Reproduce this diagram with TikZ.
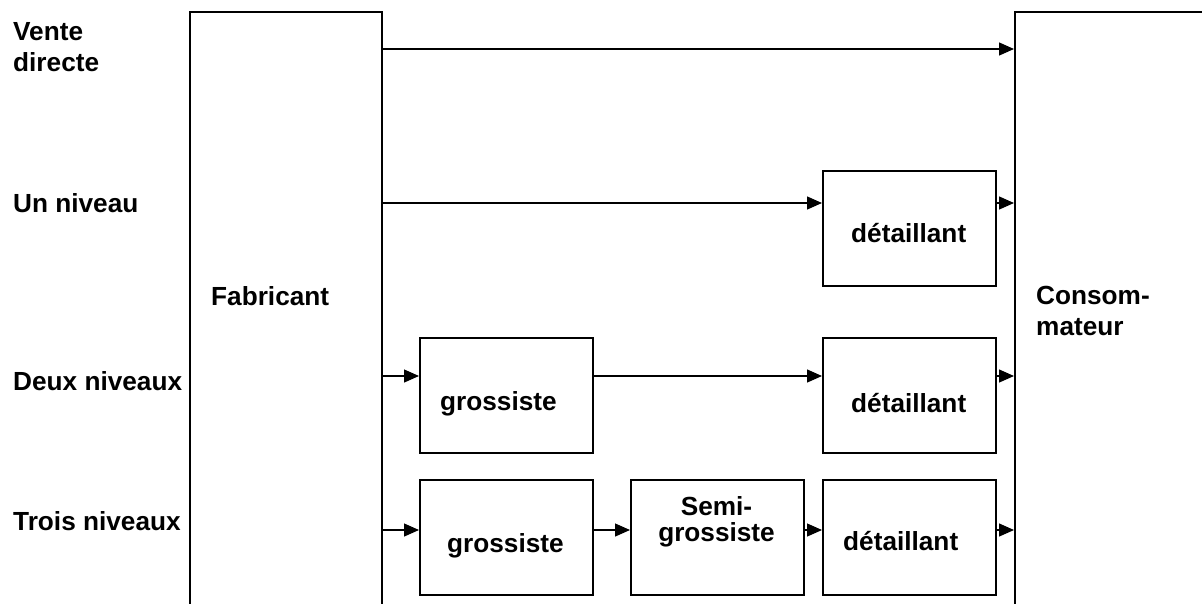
\documentclass[tikz,border=0pt]{standalone}
\usepackage{fontspec}
\setmainfont{Liberation Sans}
\usetikzlibrary{arrows.meta}
\tikzset{
  box/.style={draw=black, line width=1.6pt, rectangle, inner sep=0pt, anchor=north west},
  lbl/.style={anchor=base west, inner sep=0pt, font=\fontsize{26.2}{31}\selectfont\bfseries},
  ctr/.style={anchor=base, inner sep=0pt, font=\fontsize{26.2}{31}\selectfont\bfseries},
  arr/.style={line width=1.3pt, -{Triangle[length=15pt,width=13pt]}}
}
\begin{document}
\begin{tikzpicture}[x=1pt,y=-1pt]
\useasboundingbox (0,0) rectangle (1202,603);
\clip (0,0) rectangle (1202,603);
% big boxes
\node[box, minimum width=192pt, minimum height=640pt] (fab) at (189,11) {};
\node[box, minimum width=240pt, minimum height=640pt] (cons) at (1014,11) {};
% small boxes
\node[box, minimum width=173pt, minimum height=115pt] (d1) at (822,170) {};
\node[box, minimum width=173pt, minimum height=115pt] (g2) at (419,337) {};
\node[box, minimum width=173pt, minimum height=115pt] (d2) at (822,337) {};
\node[box, minimum width=173pt, minimum height=115pt] (g3) at (419,479) {};
\node[box, minimum width=173pt, minimum height=115pt] (s3) at (630,479) {};
\node[box, minimum width=173pt, minimum height=115pt] (d3) at (822,479) {};
% texts
\node[lbl] (tv1) at (13,40) {Vente};
\node[lbl] (tv2) at (13,71) {directe};
\node[lbl] (tu) at (13,212) {Un niveau};
\node[lbl] (td) at (13,390) {Deux niveaux};
\node[lbl] (tt) at (13,530) {Trois niveaux};
\node[lbl] (tfab) at (211,305) {Fabricant};
\node[lbl] (tc1) at (1036,304) {Consom-};
\node[lbl] (tc2) at (1036,335) {mateur};
\node[lbl] (td1) at (851,242) {détaillant};
\node[lbl] (tg2) at (440,410) {grossiste};
\node[lbl] (td2) at (851,412) {détaillant};
\node[lbl] (tg3) at (447,552) {grossiste};
\node[ctr] (ts1) at (716.5,515) {Semi-};
\node[ctr] (ts2) at (716.5,541) {grossiste};
\node[lbl] (td3) at (843,550) {détaillant};
% arrows
\draw[arr] (fab.east |- 0,49) -- (cons.west |- 0,49);
\draw[arr] (fab.east |- 0,203) -- (d1.west |- 0,203);
\draw[arr] (d1.east |- 0,203) -- (cons.west |- 0,203);
\draw[arr] (fab.east |- 0,376) -- (g2.west |- 0,376);
\draw[arr] (g2.east |- 0,376) -- (d2.west |- 0,376);
\draw[arr] (d2.east |- 0,376) -- (cons.west |- 0,376);
\draw[arr] (fab.east |- 0,530) -- (g3.west |- 0,530);
\draw[arr] (g3.east |- 0,530) -- (s3.west |- 0,530);
\draw[arr] (s3.east |- 0,530) -- (d3.west |- 0,530);
\draw[arr] (d3.east |- 0,530) -- (cons.west |- 0,530);
\end{tikzpicture}
\end{document}
